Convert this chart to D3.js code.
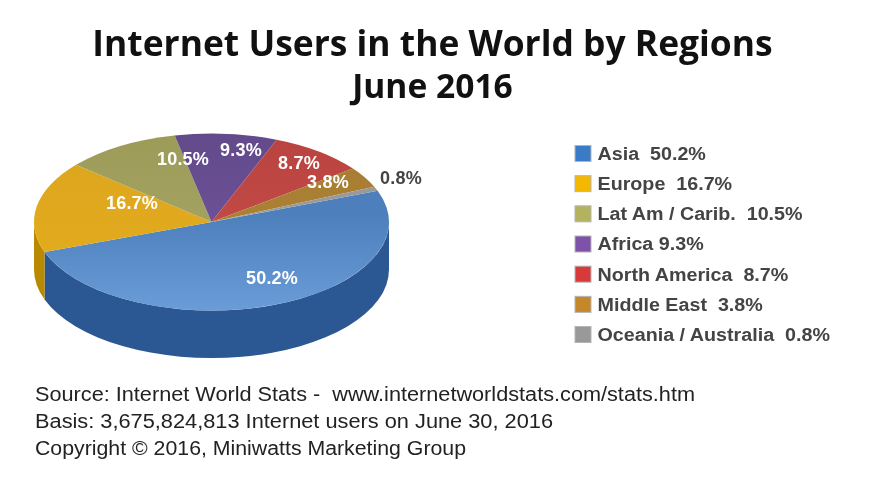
<!DOCTYPE html>
<html>
<head>
<meta charset="utf-8">
<script src="https://cdn.jsdelivr.net/npm/d3@7"></script>
<style>
html, body { margin: 0; padding: 0; background: #fff; }
svg { display: block; filter: blur(0.4px); }
</style>
</head>
<body>
<div class="chart"></div>
<script>
//----Data----
const regions = ["Asia", "Europe", "Lat Am / Carib.", "Africa", "North America", "Middle East", "Oceania / Australia"];
const shares = [50.2, 16.7, 10.5, 9.3, 8.7, 3.8, 0.8];
const legendGaps = ["  ", "  ", "  ", " ", "  ", "  ", "  "];
const sliceLabels = ["50.2%", "16.7%", "10.5%", "9.3%", "8.7%", "3.8%", "0.8%"];
const titleLines = ["Internet Users in the World by Regions", "June 2016"];
const sourceLines = [
    "Source: Internet World Stats -  www.internetworldstats.com/stats.htm",
    "Basis: 3,675,824,813 Internet users on June 30, 2016",
    "Copyright \u00A9 2016, Miniwatts Marketing Group"
];

//----Styles and layout----
const topLight = ["#6a9cd8", "#e6ad1c", "#a9a868", "#75589f", "#c9504c", "#b08538", "#a0a0a0"];
const topDark = ["#4c7fbb", "#dba51f", "#9c9b58", "#624a8b", "#b94340", "#a67c30", "#969696"];
const wallColors = ["#2b5892", "#b98a00", "#8a8a4a", "#54407a", "#9c3633", "#8a6526", "#808080"];
const legendColors = ["#3a7bc8", "#f5b800", "#b3b35f", "#7d52a8", "#d83a3a", "#c4872a", "#999999"];
const labelSpots = [[272, 278], [132, 203], [183, 159], [241, 150], [299, 163], [328, 182], [401, 178]];
const titleSizes = [35.4, 33.6];
const sourceWidths = [660, 518, 431];

const width = 876, height = 478;
const pieBox = {cx: 211.5, cy: 222, rx: 177.5, ry: 88.5, depth: 47.5};
const startDeg = 69.4;

const svg = d3.select(".chart").append("svg")
    .attr("width", width)
    .attr("height", height)
    .attr("font-family", "'Liberation Sans', Arial, sans-serif");

svg.append("rect").attr("width", width).attr("height", height).attr("fill", "#fff");

const defs = svg.append("defs");

//----Title----
svg.selectAll(".title")
    .data(titleLines)
    .enter().append("text")
    .attr("class", "title")
    .attr("x", 432.5)
    .attr("y", (d, i) => 56 + i * 42)
    .attr("text-anchor", "middle")
    .attr("font-family", "'Open Sans', sans-serif")
    .attr("font-weight", 700)
    .attr("font-size", (d, i) => titleSizes[i])
    .attr("fill", "#111")
    .text(d => d);

//----Pie----
const start = startDeg * Math.PI / 180;
const pie = d3.pie().sort(null).startAngle(start).endAngle(start + 2 * Math.PI);
const slices = pie(shares);

const squash = pieBox.ry / pieBox.rx;
const pieG = svg.append("g")
    .attr("transform", `translate(${pieBox.cx},${pieBox.cy}) scale(1,${squash})`);

// side wall of a slice, only the front half of the rim shows
function wallPath(d) {
    const a0 = Math.max(d.startAngle, Math.PI / 2) - Math.PI / 2;
    const a1 = Math.min(d.endAngle, 3 * Math.PI / 2) - Math.PI / 2;
    if (a1 <= a0) return null;
    const r = pieBox.rx, drop = pieBox.depth / squash;
    const p = d3.path();
    p.arc(0, 0, r, a0, a1);
    p.lineTo(r * Math.cos(a1), r * Math.sin(a1) + drop);
    p.arc(0, drop, r, a1, a0, true);
    p.closePath();
    return p.toString();
}

pieG.selectAll(".wall")
    .data(slices.filter(d => wallPath(d)))
    .enter().append("path")
    .attr("class", "wall")
    .attr("d", wallPath)
    .attr("fill", d => wallColors[d.index]);

slices.forEach((d, i) => {
    const g = defs.append("linearGradient")
        .attr("id", "top" + i)
        .attr("gradientUnits", "userSpaceOnUse")
        .attr("x1", 0).attr("x2", 0)
        .attr("y1", -pieBox.rx).attr("y2", pieBox.rx);
    g.append("stop").attr("offset", i == 0 ? "0.45" : "0").attr("stop-color", topDark[i]);
    g.append("stop").attr("offset", "1").attr("stop-color", topLight[i]);
});

const arc = d3.arc().innerRadius(0).outerRadius(pieBox.rx);

pieG.selectAll(".slice")
    .data(slices)
    .enter().append("path")
    .attr("class", "slice")
    .attr("d", arc)
    .attr("fill", d => `url(#top${d.index})`);

// slice labels, the smallest one sits outside the pie in dark text
svg.selectAll(".slice-label")
    .data(sliceLabels)
    .enter().append("text")
    .attr("class", "slice-label")
    .attr("x", (d, i) => labelSpots[i][0])
    .attr("y", (d, i) => labelSpots[i][1])
    .attr("dy", "0.36em")
    .attr("text-anchor", "middle")
    .attr("font-weight", 700)
    .attr("font-size", 18)
    .attr("letter-spacing", 0.2)
    .attr("fill", (d, i) => i == 6 ? "#444" : "#fff")
    .text(d => d);

//----Legend----
const legendY = d3.scalePoint().domain(regions).range([153.5, 334.5]);

const legend = svg.selectAll(".legend")
    .data(regions)
    .enter().append("g")
    .attr("class", "legend")
    .attr("transform", d => `translate(575,${legendY(d)})`);

legend.append("rect")
    .attr("x", 0)
    .attr("y", -8)
    .attr("width", 16)
    .attr("height", 16)
    .attr("stroke", "#b5b5b5")
    .attr("fill", (d, i) => legendColors[i]);

// the legend type is a bit wider than plain Liberation, so stretch it sideways
legend.append("text")
    .attr("transform", "translate(22.5,0) scale(1.095,1)")
    .attr("dy", "0.36em")
    .attr("font-weight", 700)
    .attr("font-size", 18)
    .attr("fill", "#444")
    .style("white-space", "pre")
    .text((d, i) => d + legendGaps[i] + shares[i].toFixed(1) + "%");

//----Source----
svg.selectAll(".source")
    .data(sourceLines)
    .enter().append("text")
    .attr("class", "source")
    .attr("x", 35)
    .attr("y", (d, i) => 401 + i * 27)
    .attr("font-size", 20)
    .attr("textLength", (d, i) => sourceWidths[i])
    .attr("lengthAdjust", "spacingAndGlyphs")
    .attr("fill", "#222")
    .style("white-space", "pre")
    .text(d => d);
</script>
</body>
</html>
